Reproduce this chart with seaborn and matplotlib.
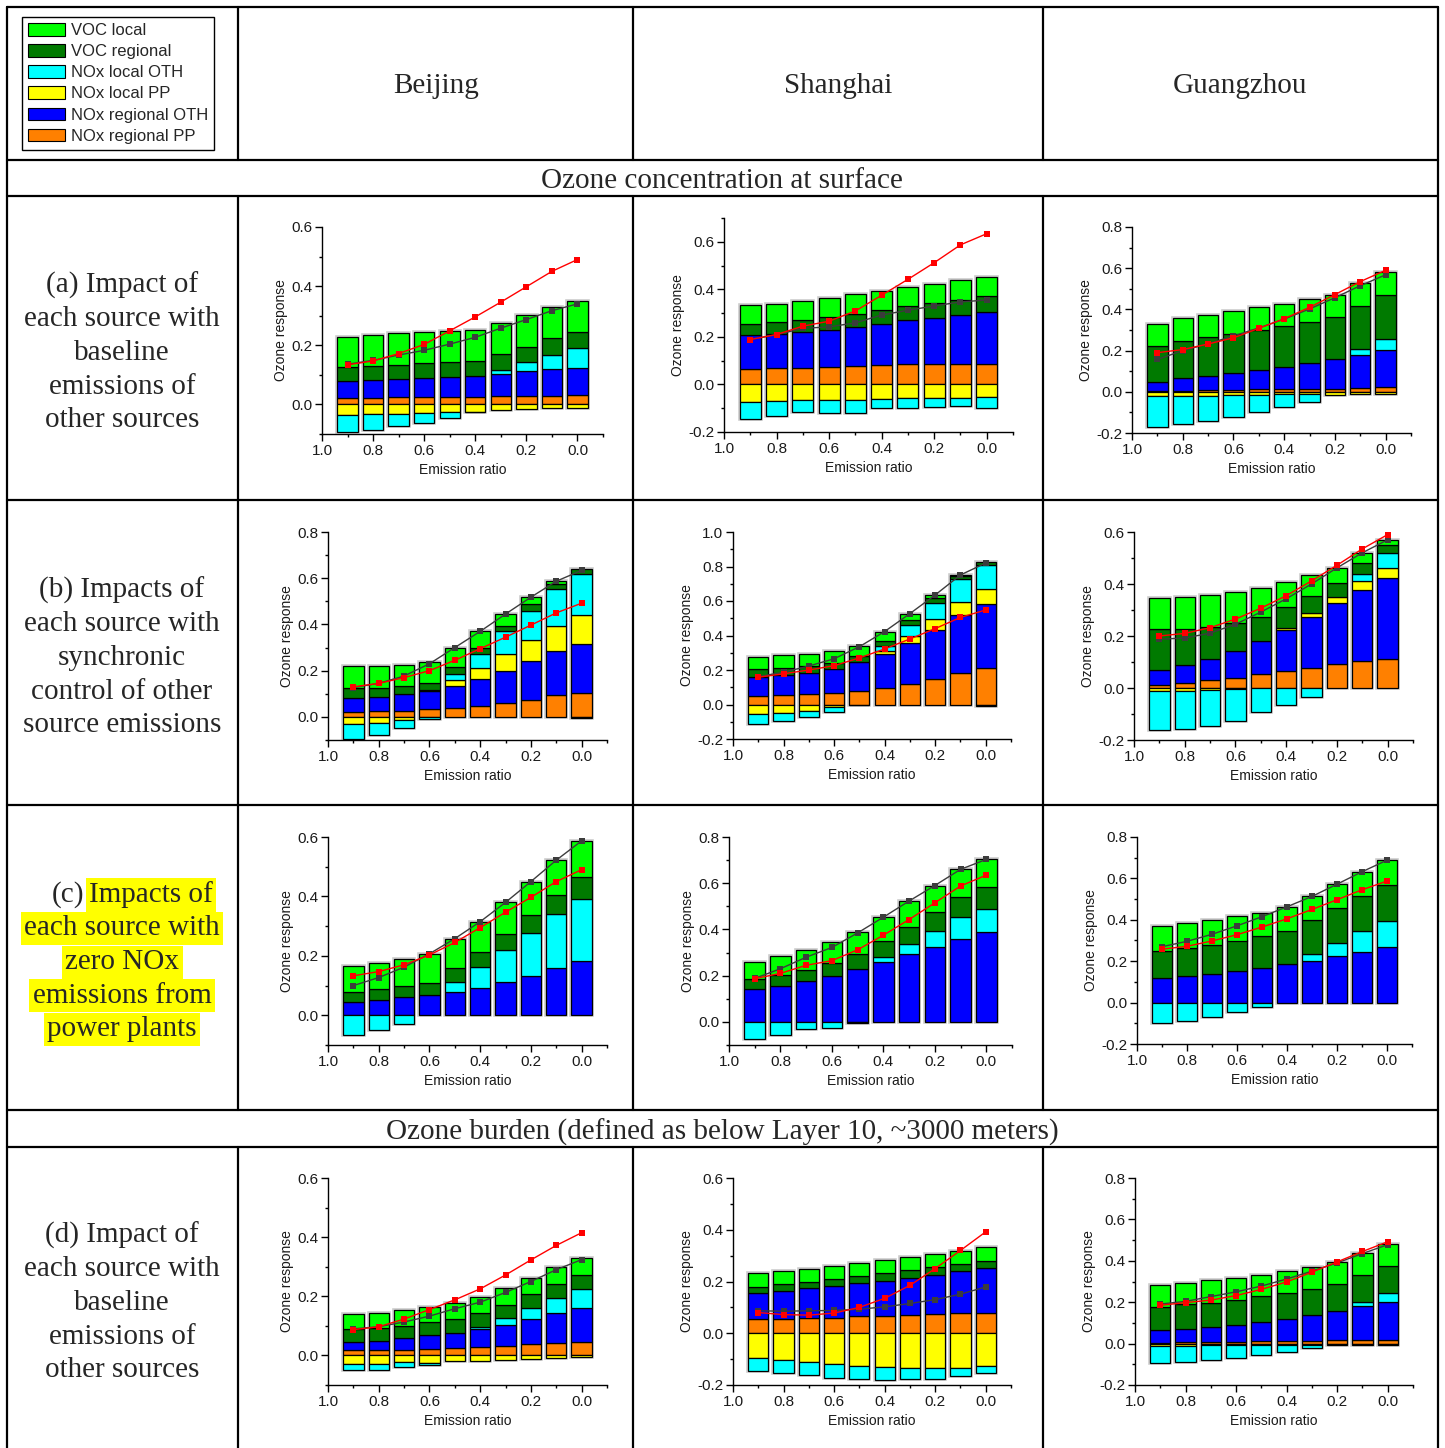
import numpy as np
import pandas as pd
import matplotlib
matplotlib.use("Agg")
import matplotlib.pyplot as plt
from matplotlib.lines import Line2D
from matplotlib.patches import Patch
from matplotlib.ticker import FixedLocator, FormatStrFormatter
import seaborn as sns

# ---------------------------------------------------------------- data
RATIOS = [0.9, 0.8, 0.7, 0.6, 0.5, 0.4, 0.3, 0.2, 0.1, 0.0]
CITIES = ["Beijing", "Shanghai", "Guangzhou"]
LEGEND_ORDER = ["VOC local", "VOC regional", "NOx local OTH",
                "NOx local PP", "NOx regional OTH", "NOx regional PP"]
STACK_ORDER = LEGEND_ORDER[::-1]          # bottom -> top
SOURCE_COLORS = {
    "VOC local": "#00FF00",
    "VOC regional": "#007A00",
    "NOx local OTH": "#00FFFF",
    "NOx local PP": "#FFFF00",
    "NOx regional OTH": "#0000FF",
    "NOx regional PP": "#FF8000",
}

# (a) surface ozone, baseline emissions of other sources
a_beijing = {
    "NOx regional PP":  [.021, .021, .024, .025, .025, .026, .027, .029, .029, .031],
    "NOx regional OTH": [.058, .063, .063, .064, .068, .071, .077, .083, .091, .093],
    "NOx local PP":     [-.035, -.034, -.032, -.028, -.026, -.024, -.019, -.017, -.012, -.011],
    "NOx local OTH":    [-.057, -.051, -.041, -.034, -.019, -.002, .014, .032, .048, .066],
    "VOC regional":     [.048, .047, .047, .051, .052, .051, .053, .051, .055, .055],
    "VOC local":        [.101, .103, .106, .105, .104, .105, .106, .109, .106, .106],
}
a_beijing_red = [.134, .147, .172, .203, .249, .296, .346, .398, .450, .490]

a_shanghai = {
    "NOx regional PP":  [.066, .070, .070, .074, .078, .081, .087, .087, .087, .087],
    "NOx regional OTH": [.141, .144, .151, .157, .164, .175, .182, .194, .207, .218],
    "NOx local PP":     [-.073, -.070, -.067, -.067, -.064, -.062, -.059, -.057, -.055, -.052],
    "NOx local OTH":    [-.071, -.061, -.048, -.055, -.056, -.039, -.039, -.037, -.036, -.045],
    "VOC regional":     [.049, .049, .050, .053, .056, .056, .060, .063, .060, .066],
    "VOC local":        [.077, .077, .080, .080, .081, .081, .081, .080, .084, .081],
}
a_shanghai_red = [.189, .210, .245, .266, .309, .375, .442, .512, .587, .634]

a_guangzhou = {
    "NOx regional PP":  [.003, .006, .008, .010, .012, .013, .015, .016, .018, .021],
    "NOx regional OTH": [.045, .059, .067, .080, .093, .107, .125, .142, .162, .181],
    "NOx local PP":     [-.020, -.018, -.018, -.015, -.015, -.012, -.010, -.015, -.012, -.012],
    "NOx local OTH":    [-.150, -.139, -.124, -.107, -.085, -.063, -.038, 0, .030, .056],
    "VOC regional":     [.172, .180, .190, .193, .195, .200, .200, .205, .208, .214],
    "VOC local":        [.107, .112, .110, .110, .110, .108, .110, .109, .109, .108],
}
a_guangzhou_red = [.190, .205, .232, .262, .308, .355, .410, .472, .535, .590]

# (b) surface ozone, synchronic control of other sources
b_beijing = {
    "NOx regional PP":  [.022, .025, .027, .033, .038, .045, .060, .075, .093, .105],
    "NOx regional OTH": [.060, .060, .070, .077, .097, .118, .140, .165, .190, .212],
    "NOx local PP":     [-.032, -.025, -.012, .005, .025, .047, .070, .093, .112, .126],
    "NOx local OTH":    [-.063, -.052, -.036, -.008, .025, .062, .100, .127, .160, .177],
    "VOC regional":     [.045, .040, .035, .033, .030, .028, .025, .028, .022, .018],
    "VOC local":        [.095, .097, .093, .090, .085, .070, .050, .030, .010, -.004],
}
b_beijing_red = [.130, .145, .170, .200, .245, .295, .345, .397, .450, .492]

b_shanghai = {
    "NOx regional PP":  [.050, .055, .060, .068, .080, .097, .120, .150, .182, .210],
    "NOx regional OTH": [.112, .115, .125, .137, .168, .198, .238, .282, .338, .375],
    "NOx local PP":     [-.055, -.048, -.038, -.015, -.005, .013, .042, .063, .075, .083],
    "NOx local OTH":    [-.060, -.050, -.034, -.030, 0, .030, .063, .095, .130, .142],
    "VOC regional":     [.043, .040, .040, .035, .032, .030, .025, .025, .018, .018],
    "VOC local":        [.072, .075, .070, .070, .060, .055, .039, .020, .008, -.008],
}
b_shanghai_red = [.158, .178, .200, .225, .270, .322, .380, .440, .505, .548]

b_guangzhou = {
    "NOx regional PP":  [.013, .020, .030, .040, .053, .065, .078, .092, .103, .112],
    "NOx regional OTH": [.057, .068, .082, .102, .127, .160, .197, .235, .275, .313],
    "NOx local PP":     [-.010, -.010, -.008, -.005, 0, .005, .015, .023, .032, .038],
    "NOx local OTH":    [-.150, -.148, -.139, -.120, -.093, -.065, -.035, 0, .030, .057],
    "VOC regional":     [.158, .140, .123, .108, .093, .080, .065, .055, .042, .030],
    "VOC local":        [.120, .122, .123, .120, .112, .098, .080, .057, .038, .020],
}
b_guangzhou_red = [.200, .210, .232, .265, .307, .355, .412, .472, .535, .590]

# (c) surface ozone, zero NOx emissions from power plants
c_beijing = {
    "NOx regional OTH": [.045, .052, .060, .068, .080, .093, .112, .133, .160, .183],
    "NOx local OTH":    [-.065, -.050, -.028, 0, .032, .069, .108, .145, .180, .209],
    "VOC regional":     [.035, .035, .037, .042, .046, .050, .055, .060, .065, .073],
    "VOC local":        [.085, .090, .093, .097, .100, .103, .105, .112, .117, .122],
}
c_beijing_red = [.133, .147, .170, .203, .245, .295, .347, .397, .450, .490]

c_shanghai = {
    "NOx regional OTH": [.143, .155, .175, .198, .230, .260, .293, .325, .360, .390],
    "NOx local OTH":    [-.072, -.055, -.030, -.025, -.005, .020, .044, .068, .095, .100],
    "VOC regional":     [.042, .048, .050, .057, .062, .070, .075, .082, .087, .093],
    "VOC local":        [.075, .082, .085, .092, .098, .103, .111, .115, .118, .120],
}
c_shanghai_red = [.187, .210, .245, .265, .312, .375, .443, .515, .588, .635]

c_guangzhou = {
    "NOx regional OTH": [.118, .127, .138, .152, .168, .187, .203, .223, .245, .267],
    "NOx local OTH":    [-.098, -.087, -.070, -.047, -.020, 0, .032, .067, .100, .128],
    "VOC regional":     [.130, .138, .142, .148, .152, .158, .162, .165, .170, .175],
    "VOC local":        [.120, .118, .120, .118, .115, .118, .116, .117, .117, .118],
}
c_guangzhou_red = [.258, .272, .298, .328, .365, .405, .450, .497, .545, .587]

# (d) ozone burden below layer 10, baseline emissions of other sources
d_beijing = {
    "NOx regional PP":  [.017, .020, .020, .023, .025, .027, .032, .037, .042, .045],
    "NOx regional OTH": [.028, .030, .038, .047, .052, .061, .070, .085, .101, .115],
    "NOx local PP":     [-.030, -.028, -.023, -.025, -.020, -.018, -.015, -.012, -.008, -.006],
    "NOx local OTH":    [-.020, -.020, -.017, -.007, 0, .009, .025, .038, .050, .065],
    "VOC regional":     [.043, .043, .042, .042, .045, .046, .045, .047, .047, .048],
    "VOC local":        [.052, .052, .053, .053, .056, .055, .056, .055, .058, .057],
}
d_beijing_red = [.087, .097, .123, .155, .188, .225, .272, .323, .372, .415]

d_shanghai = {
    "NOx regional PP":  [.055, .057, .058, .060, .065, .067, .070, .073, .077, .080],
    "NOx regional OTH": [.100, .106, .115, .122, .128, .136, .143, .152, .163, .172],
    "NOx local PP":     [-.095, -.103, -.110, -.120, -.127, -.132, -.135, -.135, -.133, -.127],
    "NOx local OTH":    [-.050, -.052, -.053, -.052, -.050, -.048, -.043, -.040, -.034, -.026],
    "VOC regional":     [.025, .027, .027, .026, .027, .029, .030, .030, .028, .028],
    "VOC local":        [.052, .050, .050, .052, .050, .050, .050, .050, .050, .052],
}
d_shanghai_red = [.080, .072, .070, .078, .100, .135, .185, .250, .320, .392]

d_guangzhou = {
    "NOx regional PP":  [.005, .007, .008, .010, .012, .013, .013, .015, .018, .018],
    "NOx regional OTH": [.060, .065, .072, .082, .093, .107, .124, .143, .162, .182],
    "NOx local PP":     [-.010, -.010, -.008, -.008, -.007, -.005, -.005, -.005, -.005, -.005],
    "NOx local OTH":    [-.082, -.078, -.070, -.060, -.048, -.035, -.017, 0, .020, .045],
    "VOC regional":     [.113, .118, .118, .120, .123, .123, .128, .129, .130, .132],
    "VOC local":        [.105, .102, .107, .106, .105, .109, .107, .108, .110, .106],
}
d_guangzhou_red = [.185, .198, .210, .232, .262, .298, .345, .395, .445, .492]

# ---------------------------------------------------------------- layout
W, H = 1445, 1448
SERIF = "Liberation Serif"
SANS = "Liberation Sans"
SERIF_SIZE = 21

sns.set_theme(style="ticks")
plt.rcParams["font.family"] = [SANS, "DejaVu Sans"]
plt.rcParams["axes.unicode_minus"] = False

fig = plt.figure(figsize=(W / 100, H / 100), dpi=100)
fig.patch.set_facecolor("white")


def fx(x):
    return x / W


def fy(y):
    return 1 - y / H


def hline(y, x0=7, x1=1438):
    fig.add_artist(Line2D([fx(x0), fx(x1)], [fy(y), fy(y)],
                          transform=fig.transFigure, color="black", lw=1.6))


def vline(x, y0, y1):
    fig.add_artist(Line2D([fx(x), fx(x)], [fy(y0), fy(y1)],
                          transform=fig.transFigure, color="black", lw=1.6))


def serif_text(x, y, s, **kw):
    opts = dict(ha="center", va="center", fontsize=SERIF_SIZE, family=SERIF)
    opts.update(kw)
    return fig.text(fx(x), fy(y), s, **opts)


# table grid
for y in [7, 160, 196, 500, 805, 1110, 1147]:
    hline(y)
vline(7, 7, 1448)
vline(1438, 7, 1448)
for x in [238, 633, 1043]:
    vline(x, 7, 160)
    vline(x, 196, 1110)
    vline(x, 1147, 1448)

# headers
for name, xc in zip(CITIES, [436, 838, 1240]):
    serif_text(xc, 86, name)
serif_text(722, 181, "Ozone concentration at surface")
serif_text(722, 1132, "Ozone burden (defined as below Layer 10, ~3000 meters)")

# row descriptions
LINE_STEP = 33.7
ROW_TEXT = {
    353: ["(a) Impact of", "each source with", "baseline", "emissions of", "other sources"],
    658: ["(b) Impacts of", "each source with", "synchronic", "control of other", "source emissions"],
    1303: ["(d) Impact of", "each source with", "baseline", "emissions of", "other sources"],
}
for yc, lines in ROW_TEXT.items():
    for i, s in enumerate(lines):
        serif_text(122, yc + (i - 2) * LINE_STEP, s)

hl = dict(boxstyle="square,pad=0.12", facecolor="#FFFF00", edgecolor="none")
yc = 962
serif_text(84, yc - 2 * LINE_STEP, "(c)", ha="right")
serif_text(89, yc - 2 * LINE_STEP, "Impacts of", ha="left", bbox=hl)
for i, s in enumerate(["each source with", "zero NOx", "emissions from", "power plants"], start=1):
    serif_text(122, yc + (i - 2) * LINE_STEP, s, bbox=hl)

# legend
handles = [Patch(facecolor=SOURCE_COLORS[s], edgecolor="black", linewidth=0.8)
           for s in LEGEND_ORDER]
leg = fig.legend(handles, LEGEND_ORDER, loc="upper left",
                 bbox_to_anchor=(fx(22), fy(17)), bbox_transform=fig.transFigure,
                 frameon=True, fancybox=False, edgecolor="black", framealpha=1,
                 fontsize=12, handlelength=2.2, handleheight=0.8,
                 handletextpad=0.4, labelspacing=0.36, borderpad=0.35,
                 borderaxespad=0)
leg.get_frame().set_linewidth(1.0)


# ---------------------------------------------------------------- panels
def draw_panel(ax, comps, red, ylim):
    n = len(RATIOS)
    pos = np.zeros(n)
    neg = np.zeros(n)
    net = np.zeros(n)
    for src in STACK_ORDER:
        if src in comps:
            v = np.asarray(comps[src], dtype=float)
            pos += np.clip(v, 0, None)
            neg += np.clip(v, None, 0)
            net += v

    # soft outline around every column
    outline = pd.DataFrame({"ratio": RATIOS, "span": pos - neg, "base": neg})
    outline = outline.sort_values("ratio")
    sns.barplot(data=outline, x="ratio", y="span", orient="x", native_scale=True,
                width=0.8, bottom=outline["base"].to_numpy(), color="#cccccc",
                facecolor="none", edgecolor="#cccccc", linewidth=2.6,
                errorbar=None, saturation=1, ax=ax, zorder=1)

    pos = np.zeros(n)
    neg = np.zeros(n)
    for src in STACK_ORDER:
        if src not in comps:
            continue
        v = np.asarray(comps[src], dtype=float)
        base = np.where(v >= 0, pos, neg)
        seg = pd.DataFrame({"ratio": RATIOS, "value": v, "base": base})
        seg = seg[seg["value"] != 0].sort_values("ratio")
        sns.barplot(data=seg, x="ratio", y="value", orient="x", native_scale=True,
                    width=0.8, bottom=seg["base"].to_numpy(),
                    color=SOURCE_COLORS[src], saturation=1, edgecolor="black",
                    linewidth=0.9, errorbar=None, ax=ax, zorder=2)
        pos += np.clip(v, 0, None)
        neg += np.clip(v, None, 0)

    sns.lineplot(x=RATIOS, y=net, color="#3c3c3c", marker="s", markersize=4.5,
                 markeredgewidth=0, linewidth=1.0, ax=ax, zorder=5)
    sns.lineplot(x=RATIOS, y=red, color="#FF0000", marker="s", markersize=4.5,
                 markeredgewidth=0, linewidth=1.0, ax=ax, zorder=6)

    ax.set_xlim(1.0, -0.1)
    ax.set_ylim(*ylim)
    ax.xaxis.set_major_locator(FixedLocator([1.0, 0.8, 0.6, 0.4, 0.2, 0.0]))
    ax.xaxis.set_minor_locator(FixedLocator([0.9, 0.7, 0.5, 0.3, 0.1, -0.1]))
    lo = int(round(ylim[0] * 10))
    hi = int(round(ylim[1] * 10))
    major = [k / 10 for k in range(lo, hi + 1) if k % 2 == 0]
    minor = [k / 10 for k in range(lo, hi + 1) if k % 2 != 0]
    ax.yaxis.set_major_locator(FixedLocator(major))
    ax.yaxis.set_minor_locator(FixedLocator(minor))
    ax.xaxis.set_major_formatter(FormatStrFormatter("%.1f"))
    ax.yaxis.set_major_formatter(FormatStrFormatter("%.1f"))
    ax.tick_params(which="major", direction="out", length=5, width=1.0,
                   labelsize=11, pad=2, color="black", labelcolor="#1a1a1a")
    ax.tick_params(which="minor", direction="out", length=2.5, width=1.0, color="black")
    for side in ["top", "right"]:
        ax.spines[side].set_visible(False)
    for side in ["left", "bottom"]:
        ax.spines[side].set_linewidth(1.0)
        ax.spines[side].set_color("black")
    ax.set_xlabel("Emission ratio", fontsize=10, labelpad=4, color="#1a1a1a")
    ax.set_ylabel("Ozone response", fontsize=10, labelpad=2, color="#1a1a1a")
    ax.set_facecolor("none")
    ax.grid(False)


PANELS = [
    # comps, red line, y-range, (left, top, right, bottom) in pixels
    (a_beijing, a_beijing_red, (-0.1, 0.6), (322, 227, 603, 434)),
    (a_shanghai, a_shanghai_red, (-0.2, 0.7), (724, 218, 1013, 432)),
    (a_guangzhou, a_guangzhou_red, (-0.2, 0.8), (1132, 227, 1411, 433)),
    (b_beijing, b_beijing_red, (-0.1, 0.8), (328, 532, 607, 740)),
    (b_shanghai, b_shanghai_red, (-0.2, 1.0), (733, 532, 1011, 739)),
    (b_guangzhou, b_guangzhou_red, (-0.2, 0.6), (1134, 532, 1413, 740)),
    (c_beijing, c_beijing_red, (-0.1, 0.6), (328, 837, 607, 1045)),
    (c_shanghai, c_shanghai_red, (-0.1, 0.8), (729, 837, 1012, 1045)),
    (c_guangzhou, c_guangzhou_red, (-0.2, 0.8), (1137, 837, 1412, 1044)),
    (d_beijing, d_beijing_red, (-0.1, 0.6), (328, 1178, 607, 1385)),
    (d_shanghai, d_shanghai_red, (-0.2, 0.6), (733, 1178, 1011, 1385)),
    (d_guangzhou, d_guangzhou_red, (-0.2, 0.8), (1135, 1178, 1413, 1385)),
]

for comps, red, ylim, (l, t, r, b) in PANELS:
    ax = fig.add_axes([fx(l), fy(b), (r - l) / W, (b - t) / H])
    draw_panel(ax, comps, red, ylim)

fig.savefig("out.png", dpi=100, facecolor="white")
